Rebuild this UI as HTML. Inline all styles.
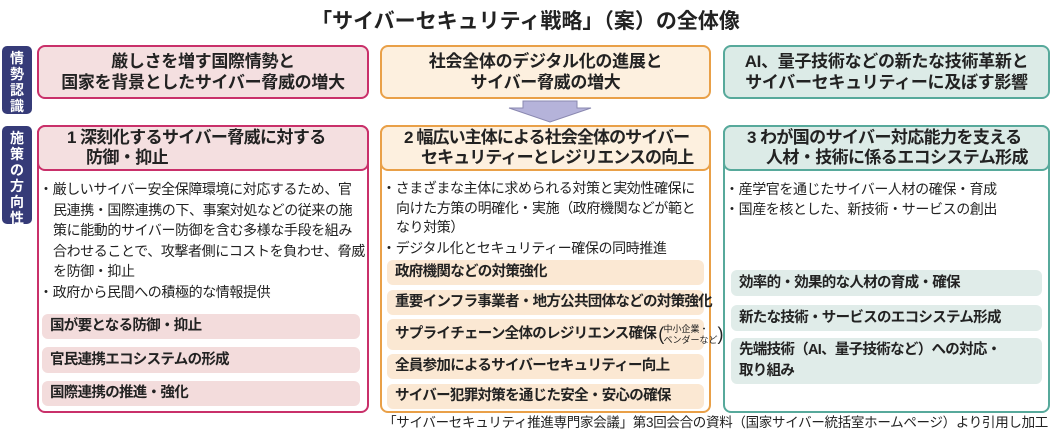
<!DOCTYPE html>
<html><head><meta charset="utf-8"><style>
*{margin:0;padding:0;box-sizing:border-box}
body{width:1051px;height:437px;background:#fff;position:relative;overflow:hidden;font-family:"Liberation Sans","Noto Sans CJK JP",sans-serif;color:#222}
.a{position:absolute}
.lab{background:#363b78;color:#fff;border-radius:5px;font-size:14px;line-height:16px;text-align:center;padding-top:4px;font-weight:bold}
.top{border:2px solid;border-radius:8px;font-weight:bold;font-size:17px;line-height:21px;text-align:center;display:flex;align-items:center;justify-content:center;letter-spacing:-0.3px}
.big{border:2px solid;border-radius:8px;background:#fff}
.hd{position:absolute;left:-2px;right:-2px;top:-2px;height:46px;border:2px solid;border-radius:8px;font-weight:bold;font-size:17px;line-height:20px;display:flex;flex-direction:column;justify-content:center;letter-spacing:-0.6px;white-space:nowrap}
.bl{font-size:14px;line-height:20.5px;white-space:nowrap;letter-spacing:-0.4px}
.pill{position:absolute;border-radius:6px;font-weight:bold;font-size:14.5px;line-height:19px;padding-left:8px;display:flex;align-items:center;white-space:nowrap;letter-spacing:-0.7px}
</style></head><body>
<div class="a" style="left:0;width:1051px;top:5px;text-align:center;font-size:21px;font-weight:bold">「サイバーセキュリティ戦略」（案）の全体像</div>

<div class="a lab" style="left:2px;top:46px;width:30px;height:68px">情<br>勢<br>認<br>識</div>
<div class="a lab" style="left:2px;top:126px;width:30px;height:98px">施<br>策<br>の<br>方<br>向<br>性</div>

<div class="a top" style="left:37px;top:45px;width:332px;height:54px;border-color:#c9306a;background:#f4dfe0">厳しさを増す国際情勢と<br>国家を背景としたサイバー脅威の増大</div>
<div class="a top" style="left:380px;top:45px;width:331px;height:54px;border-color:#e9a048;background:#fdf0df">社会全体のデジタル化の進展と<br>サイバー脅威の増大</div>
<div class="a top" style="left:723px;top:45px;width:327px;height:54px;border-color:#57a99b;background:#dcebe7">AI、量子技術などの新たな技術革新と<br>サイバーセキュリティーに及ぼす影響</div>

<svg class="a" style="left:505px;top:100px" width="90" height="24"><polygon points="18,1 72,1 72,8 86,8 45,22 4,8 18,8" fill="#b5b3da" stroke="#8a88b0" stroke-width="1"/></svg>

<div class="a big" style="left:37px;top:125px;width:332px;height:288px;border-color:#c9306a">
 <div class="hd" style="border-color:#c9306a;background:#f4dfe0;padding-left:28px"><div>1 深刻化するサイバー脅威に対する</div><div style="padding-left:19px">防御・抑止</div></div>
 <div class="a" style="left:0;top:52px;width:328px">
  <div class="bl">・厳しいサイバー安全保障環境に対応するため、官</div>
  <div class="bl" style="padding-left:14px">民連携・国際連携の下、事案対処などの従来の施</div>
  <div class="bl" style="padding-left:14px">策に能動的サイバー防御を含む多様な手段を組み</div>
  <div class="bl" style="padding-left:14px">合わせることで、攻撃者側にコストを負わせ、脅威</div>
  <div class="bl" style="padding-left:14px">を防御・抑止</div>
  <div class="bl">・政府から民間への積極的な情報提供</div>
 </div>
 <div class="pill" style="left:3px;top:187px;width:318px;height:25px;background:#f3dcdc">国が要となる防御・抑止</div>
 <div class="pill" style="left:3px;top:220px;width:318px;height:26px;background:#f3dcdc">官民連携エコシステムの形成</div>
 <div class="pill" style="left:3px;top:254px;width:318px;height:25px;background:#f3dcdc">国際連携の推進・強化</div>
</div>

<div class="a big" style="left:380px;top:125px;width:331px;height:288px;border-color:#e9a048">
 <div class="hd" style="border-color:#e9a048;background:#fdf0df;padding-left:22px;letter-spacing:-0.9px"><div>2 幅広い主体による社会全体のサイバー</div><div style="padding-left:17px">セキュリティーとレジリエンスの向上</div></div>
 <div class="a" style="left:0;top:52px;width:326px">
  <div class="bl" style="line-height:19.5px">・さまざまな主体に求められる対策と実効性確保に</div>
  <div class="bl" style="line-height:19.5px;padding-left:14px">向けた方策の明確化・実施（政府機関などが範と</div>
  <div class="bl" style="line-height:19.5px;padding-left:14px">なり対策）</div>
  <div class="bl" style="line-height:20px">・デジタル化とセキュリティー確保の同時推進</div>
 </div>
 <div class="pill" style="left:5px;top:133px;width:317px;height:25px;background:#fbe8d3">政府機関などの対策強化</div>
 <div class="pill" style="left:5px;top:163px;width:317px;height:25px;background:#fbe8d3">重要インフラ事業者・地方公共団体などの対策強化</div>
 <div class="pill" style="left:5px;top:192px;width:317px;height:31px;background:#fbe8d3">サプライチェーン全体のレジリエンス確保<span style="font-size:18px;font-weight:normal;margin-left:2px">(</span><span style="font-size:9px;line-height:11px;font-weight:normal;display:inline-block;letter-spacing:0">中小企業・<br>ベンダーなど</span><span style="font-size:18px;font-weight:normal">)</span></div>
 <div class="pill" style="left:5px;top:227px;width:317px;height:25px;background:#fbe8d3">全員参加によるサイバーセキュリティー向上</div>
 <div class="pill" style="left:5px;top:257px;width:317px;height:25px;background:#fbe8d3">サイバー犯罪対策を通じた安全・安心の確保</div>
</div>

<div class="a big" style="left:723px;top:125px;width:327px;height:288px;border-color:#57a99b">
 <div class="hd" style="border-color:#57a99b;background:#dcebe7;padding-left:22px"><div>3 わが国のサイバー対応能力を支える</div><div style="padding-left:19px">人材・技術に係るエコシステム形成</div></div>
 <div class="a" style="left:0;top:52px;width:322px">
  <div class="bl" style="line-height:20px">・産学官を通じたサイバー人材の確保・育成</div>
  <div class="bl" style="line-height:20px">・国産を核とした、新技術・サービスの創出</div>
 </div>
 <div class="pill" style="left:6px;top:143px;width:311px;height:26px;background:#e0ece9">効率的・効果的な人材の育成・確保</div>
 <div class="pill" style="left:6px;top:178px;width:311px;height:26px;background:#e0ece9">新たな技術・サービスのエコシステム形成</div>
 <div class="pill" style="left:6px;top:211px;width:311px;height:46px;background:#e0ece9;line-height:21px">先端技術（AI、量子技術など）への対応・<br>取り組み</div>
</div>

<div class="a" style="right:3px;top:414px;font-size:13.5px;line-height:17px;white-space:nowrap;letter-spacing:-0.3px">「サイバーセキュリティ推進専門家会議」第3回会合の資料（国家サイバー統括室ホームページ）より引用し加工</div>
</body></html>
